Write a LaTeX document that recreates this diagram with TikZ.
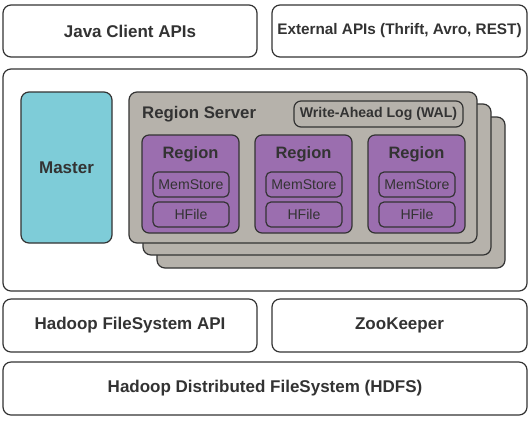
\documentclass[tikz,border=0pt]{standalone}
\usepackage{fontspec}
\setmainfont{Liberation Sans}
\definecolor{edgegray}{HTML}{333333}
\definecolor{mastercyan}{HTML}{7ECCD8}
\definecolor{servergray}{HTML}{B6B2AB}
\definecolor{regionpurple}{HTML}{9B6EAF}
\begin{document}
\begin{tikzpicture}[x=1bp,y=-1bp,
        layer/.style={draw=edgegray,line width=1.2pt,rounded corners=8bp,fill=white,inner sep=0pt,
            font=\bfseries\fontsize{17bp}{20bp}\selectfont,text=edgegray},
        masterbox/.style={layer,fill=mastercyan},
        serverbox/.style={layer,fill=servergray,minimum width=348bp,minimum height=151bp},
        regionbox/.style={layer,fill=regionpurple,rounded corners=7bp,minimum width=97bp,minimum height=98bp},
        storebox/.style={draw=edgegray,line width=1.2pt,rounded corners=5bp,inner sep=0pt,
            minimum width=76bp,minimum height=25bp,font=\fontsize{14.1bp}{16bp}\selectfont,text=edgegray}]
        \useasboundingbox (0,0) rectangle (530,420);

        % client side
        \node[layer,minimum width=254bp,minimum height=52bp] (java) at (130,31) {Java Client APIs};
        \node[layer,minimum width=255bp,minimum height=52bp,font=\bfseries\fontsize{15.3bp}{18bp}\selectfont] (external) at (399.5,31) {External APIs (Thrift, Avro, REST)};

        % hbase core
        \node[layer,minimum width=524bp,minimum height=222bp] (core) at (265,180) {};
        \node[masterbox,minimum width=91bp,minimum height=151bp] (master) at (66.5,167.5) {Master};

        % stacked region servers
        \node[serverbox] (server3) at (331,192.5) {};
        \node[serverbox] (server2) at (317,179.5) {};
        \node[serverbox] (server1) at (303,167.5) {};
        \node[anchor=west,inner sep=0pt,font=\bfseries\fontsize{16.8bp}{20bp}\selectfont,text=edgegray] (serverlabel) at (142,114) {Region Server};
        \node[storebox,rounded corners=7bp,minimum width=169bp,minimum height=26bp,font=\bfseries\fontsize{14.1bp}{16bp}\selectfont] (wal) at (378.5,114) {Write-Ahead Log (WAL)};

        % regions
        \node[regionbox] (region1) at (190.5,184) {};
        \node[font=\bfseries\fontsize{16.5bp}{20bp}\selectfont,text=edgegray,inner sep=0pt] (label1) at (190.5,154) {Region};
        \node[storebox] (mem1) at (191,184.5) {MemStore};
        \node[storebox] (hfile1) at (191,214.5) {HFile};

        \node[regionbox] (region2) at (303.5,184) {};
        \node[font=\bfseries\fontsize{16.5bp}{20bp}\selectfont,text=edgegray,inner sep=0pt] (label2) at (303.5,154) {Region};
        \node[storebox] (mem2) at (304,184.5) {MemStore};
        \node[storebox] (hfile2) at (304,214.5) {HFile};

        \node[regionbox] (region3) at (416.5,184) {};
        \node[font=\bfseries\fontsize{16.5bp}{20bp}\selectfont,text=edgegray,inner sep=0pt] (label3) at (416.5,154) {Region};
        \node[storebox] (mem3) at (417,184.5) {MemStore};
        \node[storebox] (hfile3) at (417,214.5) {HFile};

        % storage side
        \node[layer,minimum width=254bp,minimum height=53bp] (hadoopfs) at (130,325.5) {Hadoop FileSystem API};
        \node[layer,minimum width=255bp,minimum height=53bp] (zookeeper) at (399.5,325.5) {ZooKeeper};
        \node[layer,minimum width=524bp,minimum height=53bp] (hdfs) at (265,388.5) {Hadoop Distributed FileSystem (HDFS)};
\end{tikzpicture}
\end{document}
